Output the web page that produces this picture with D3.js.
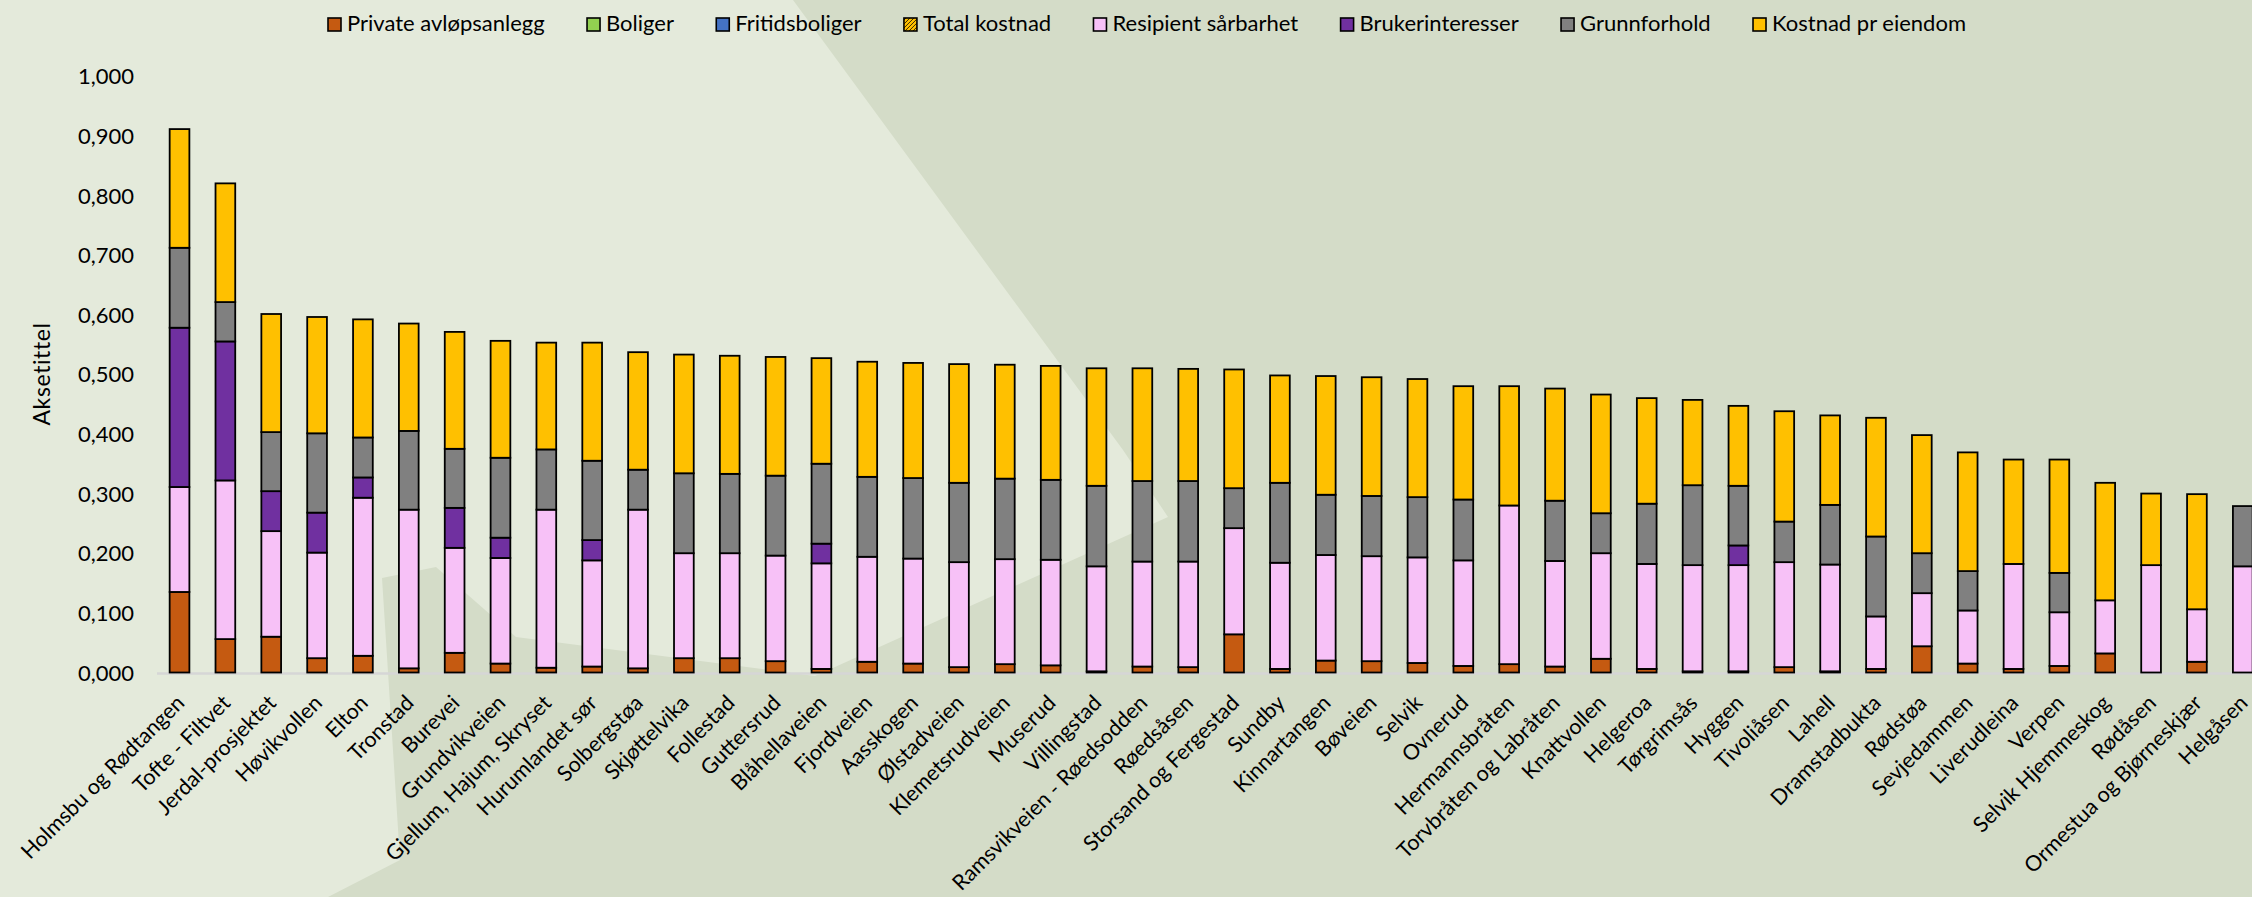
<!DOCTYPE html>
<html>
<head>
<meta charset="utf-8">
<script src="https://cdn.jsdelivr.net/npm/d3@7"></script>
<style>
  html, body { margin: 0; padding: 0; background: #d4dcc8; }
  svg { display: block; }
  text { font-family: Lato, "Open Sans", sans-serif; fill: #000; }
</style>
</head>
<body>
<svg id="chart" width="2252" height="897"></svg>
<script>
// ---------------- DATA ----------------
const categories = [
  "Holmsbu og Rødtangen", "Tofte - Filtvet", "Jerdal-prosjektet", "Høvikvollen", "Elton",
  "Tronstad", "Burevei", "Grundvikveien", "Gjellum, Hajum, Skryset", "Hurumlandet sør",
  "Solbergstøa", "Skjøttelvika", "Follestad", "Guttersrud", "Blåhellaveien",
  "Fjordveien", "Aasskogen", "Ølstadveien", "Klemetsrudveien", "Muserud",
  "Villingstad", "Ramsvikveien - Røedsodden", "Røedsåsen", "Storsand og Fergestad", "Sundby",
  "Kinnartangen", "Bøveien", "Selvik", "Ovnerud", "Hermannsbråten",
  "Torvbråten og Labråten", "Knattvollen", "Helgeroa", "Tørgrimsås", "Hyggen",
  "Tivoliåsen", "Lahell", "Dramstadbukta", "Rødstøa", "Sevjedammen",
  "Liverudleina", "Verpen", "Selvik Hjemmeskog", "Rødåsen", "Ormestua og Bjørneskjær",
  "Helgåsen"
];

const privateAvlopsanlegg = [
  0.135, 0.056, 0.060, 0.024, 0.028, 0.007, 0.033, 0.015, 0.008, 0.010,
  0.007, 0.024, 0.024, 0.019, 0.006, 0.018, 0.015, 0.009, 0.014, 0.012,
  0.002, 0.010, 0.009, 0.064, 0.006, 0.020, 0.019, 0.016, 0.011, 0.014,
  0.010, 0.023, 0.006, 0.002, 0.002, 0.009, 0.002, 0.006, 0.044, 0.015,
  0.006, 0.011, 0.032, 0.000, 0.018, 0.000
];
const boliger = [
  0, 0, 0, 0, 0, 0, 0, 0, 0, 0, 0, 0, 0, 0, 0, 0, 0, 0, 0, 0, 0, 0, 0,
  0, 0, 0, 0, 0, 0, 0, 0, 0, 0, 0, 0, 0, 0, 0, 0, 0, 0, 0, 0, 0, 0, 0
];
const fritidsboliger = [
  0, 0, 0, 0, 0, 0, 0, 0, 0, 0, 0, 0, 0, 0, 0, 0, 0, 0, 0, 0, 0, 0, 0,
  0, 0, 0, 0, 0, 0, 0, 0, 0, 0, 0, 0, 0, 0, 0, 0, 0, 0, 0, 0, 0, 0, 0
];
const totalKostnad = [
  0, 0, 0, 0, 0, 0, 0, 0, 0, 0, 0, 0, 0, 0, 0, 0, 0, 0, 0, 0, 0, 0, 0,
  0, 0, 0, 0, 0, 0, 0, 0, 0, 0, 0, 0, 0, 0, 0, 0, 0, 0, 0, 0, 0, 0, 0
];
const resipientSarbarhet = [
  0.176, 0.266, 0.177, 0.177, 0.265, 0.266, 0.176, 0.177, 0.265, 0.178,
  0.266, 0.176, 0.176, 0.177, 0.177, 0.176, 0.176, 0.176, 0.176, 0.177,
  0.176, 0.176, 0.177, 0.178, 0.178, 0.177, 0.176, 0.177, 0.177, 0.266,
  0.177, 0.177, 0.176, 0.178, 0.178, 0.176, 0.179, 0.088, 0.089, 0.089,
  0.176, 0.090, 0.089, 0.180, 0.088, 0.178
];
const brukerinteresser = [
  0.267, 0.233, 0.067, 0.067, 0.034, 0.000, 0.067, 0.034, 0.000, 0.034,
  0.000, 0.000, 0.000, 0.000, 0.033, 0.000, 0.000, 0.000, 0.000, 0.000,
  0.000, 0.000, 0.000, 0.000, 0.000, 0.000, 0.000, 0.000, 0.000, 0.000,
  0.000, 0.000, 0.000, 0.000, 0.033, 0.000, 0.000, 0.000, 0.000, 0.000,
  0.000, 0.000, 0.000, 0.000, 0.000, 0.000
];
const grunnforhold = [
  0.134, 0.066, 0.099, 0.133, 0.067, 0.132, 0.099, 0.134, 0.101, 0.133,
  0.067, 0.134, 0.133, 0.134, 0.134, 0.134, 0.135, 0.133, 0.135, 0.134,
  0.135, 0.135, 0.135, 0.067, 0.134, 0.101, 0.101, 0.101, 0.102, 0.000,
  0.101, 0.067, 0.101, 0.134, 0.100, 0.068, 0.100, 0.134, 0.067, 0.066,
  0.000, 0.066, 0.000, 0.000, 0.000, 0.101
];
const kostnadPrEiendom = [
  0.199, 0.199, 0.198, 0.195, 0.198, 0.180, 0.196, 0.196, 0.179, 0.198,
  0.197, 0.199, 0.198, 0.199, 0.177, 0.193, 0.193, 0.199, 0.191, 0.191,
  0.197, 0.189, 0.188, 0.199, 0.180, 0.199, 0.199, 0.198, 0.190, 0.200,
  0.188, 0.199, 0.177, 0.143, 0.134, 0.185, 0.150, 0.199, 0.198, 0.199,
  0.175, 0.190, 0.197, 0.120, 0.193, 0.000
];

const seriesNames = [
  "Private avløpsanlegg", "Boliger", "Fritidsboliger", "Total kostnad",
  "Resipient sårbarhet", "Brukerinteresser", "Grunnforhold", "Kostnad pr eiendom"
];
const yTickValues = [0, 0.1, 0.2, 0.3, 0.4, 0.5, 0.6, 0.7, 0.8, 0.9, 1.0];
const yTickLabels = ["0,000", "0,100", "0,200", "0,300", "0,400", "0,500",
                     "0,600", "0,700", "0,800", "0,900", "1,000"];
const yAxisTitle = "Aksetittel";

// ---------------- STYLE ----------------
const seriesData = [privateAvlopsanlegg, boliger, fritidsboliger, totalKostnad,
                    resipientSarbarhet, brukerinteresser, grunnforhold, kostnadPrEiendom];
const seriesFill = ["#c55a11", "#92d050", "#4472c4", "url(#hatch)",
                    "#f7c1f7", "#7030a0", "#808080", "#ffc000"];

const W = 2252, H = 897;
const svg = d3.select("#chart");

// background
const defs = svg.append("defs");
const pat = defs.append("pattern").attr("id", "hatch")
  .attr("patternUnits", "userSpaceOnUse").attr("width", 4).attr("height", 4);
pat.append("rect").attr("width", 4).attr("height", 4).attr("fill", "#ffc000");
pat.append("path").attr("d", "M-1,1 l2,-2 M0,4 l4,-4 M3,5 l2,-2")
  .attr("stroke", "#3a2a00").attr("stroke-width", 1);

svg.append("rect").attr("width", W).attr("height", H).attr("fill", "#d4dcc8");
svg.append("polygon")
  .attr("points", [[0,0],[793,0],[1123,450],[1168,517],[815,676],[516,637],[436,567],
                   [382,578],[400,860],[328,897],[0,897]]
    .map(p => p.join(",")).join(" "))
  .attr("fill", "#e4eadb");

// scales
const x = d3.scaleBand().domain(categories).range([156.6, 156.6 + 46 * 45.85])
  .paddingInner(0.57).paddingOuter(0.285);
const y = d3.scaleLinear().domain([0, 1]).range([672.5, 76]);

// stacked data
const rows = categories.map((c, i) => {
  const r = { cat: c };
  seriesNames.forEach((s, k) => r[s] = seriesData[k][i]);
  return r;
});
const stacked = d3.stack().keys(seriesNames)(rows);

// x axis line
svg.append("line").attr("x1", 157).attr("x2", W).attr("y1", y(0) + 1).attr("y2", y(0) + 1)
  .attr("stroke", "#d6d6d6").attr("stroke-width", 2.5);

// bars
const gBars = svg.append("g");
stacked.forEach((layer, k) => {
  gBars.append("g").attr("fill", seriesFill[k])
    .selectAll("rect")
    .data(layer.filter(d => d[1] - d[0] > 0.0009))
    .join("rect")
    .attr("x", d => x(d.data.cat))
    .attr("width", x.bandwidth())
    .attr("y", d => y(d[1]))
    .attr("height", d => y(d[0]) - y(d[1]))
    .attr("stroke", "#000")
    .attr("stroke-width", 1.8);
});

// y axis (labels only)
const yAxis = d3.axisLeft(y).tickValues(yTickValues)
  .tickFormat((d, i) => yTickLabels[i]).tickSize(0).tickPadding(0);
const gy = svg.append("g").attr("transform", "translate(134,0)").call(yAxis);
gy.select(".domain").remove();
gy.selectAll("text").attr("font-size", 22).attr("font-family", "Lato").attr("fill", "#000")
  .attr("dy", "0.35em");

// x labels
const xAxis = d3.axisBottom(x).tickSize(0).tickPadding(0);
const gx = svg.append("g").call(xAxis);
gx.select(".domain").remove();
gx.selectAll(".tick").attr("transform", null);
gx.selectAll(".tick text")
  .attr("font-size", 21.5).attr("font-family", "Lato").attr("fill", "#000")
  .attr("text-anchor", "end")
  .attr("y", null).attr("dy", "0.35em")
  .attr("transform", d => `translate(${x(d) + x.bandwidth() / 2 + 1},699) rotate(-45)`);

// y axis title
svg.append("text")
  .attr("transform", "translate(42,374) rotate(-90)")
  .attr("text-anchor", "middle").attr("dy", "0.35em")
  .attr("font-size", 23).attr("letter-spacing", 0.6)
  .text(yAxisTitle);

// legend
const gl = svg.append("g");
const items = gl.selectAll("g").data(seriesNames).join("g");
items.append("rect").attr("width", 13).attr("height", 13).attr("y", 18)
  .attr("fill", (d, i) => seriesFill[i]).attr("stroke", "#000").attr("stroke-width", 1.6);
items.append("text").attr("x", 19).attr("y", 31).attr("font-size", 22).text(d => d);
const widths = [];
items.each(function () { widths.push(19 + d3.select(this).select("text").node().getComputedTextLength()); });
const legStart = 328, legEnd = 1966;
const gap = (legEnd - legStart - d3.sum(widths)) / (widths.length - 1);
let cx = legStart;
items.each(function (d, i) {
  d3.select(this).attr("transform", `translate(${cx},0)`);
  cx += widths[i] + gap;
});
</script>
</body>
</html>
